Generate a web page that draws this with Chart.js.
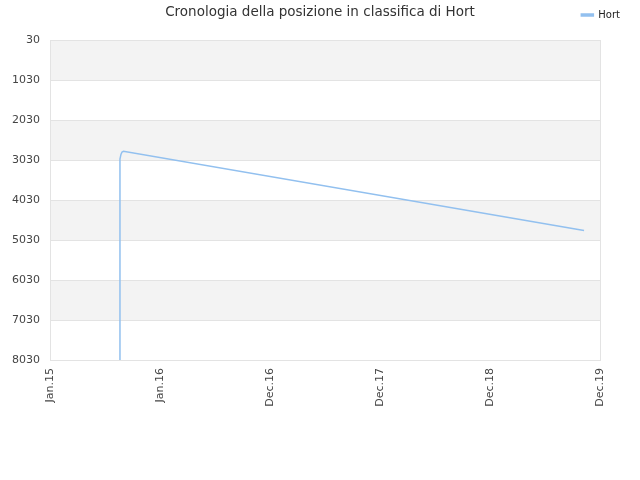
<!DOCTYPE html>
<html>
<head>
<meta charset="utf-8">
<script src="https://cdn.jsdelivr.net/npm/chart.js@4"></script>
<style>
  html, body { margin: 0; padding: 0; background: #fff; }
  #wrap { width: 640px; height: 480px; }
</style>
</head>
<body>
<div id="wrap"><canvas id="rankChart"></canvas></div>
<script>
// tick labels along the time axis (one per unit step)
const xLabels = ['Jan.15', 'Jan.16', 'Dec.16', 'Dec.17', 'Dec.18', 'Dec.19'];
// Hort ranking history, x in axis units
const hortX = [0.636, 0.636, 0.645, 0.655, 0.668, 4.855];
const hortRank = [8030, 3010, 2890, 2830, 2810, 4790];
const seriesName = 'Hort';
const chartTitle = 'Cronologia della posizione in classifica di Hort';

const rankMin = 30;
const rankMax = 8030;
const rankStep = 1000;

const gridColor = '#e3e3e3';
const lineColor = '#92c0ef';

// alternating grey bands + outer frame, plus the title drawn on the legend row
const bandsPlugin = {
    id: 'bands',
    beforeDraw(chart) {
        const { ctx, chartArea: a, scales: { y } } = chart;
        ctx.save();
        let i = 0;
        for (let v = rankMin; v < rankMax; v += rankStep) {
            if (i % 2 === 0) {
                const top = y.getPixelForValue(v);
                const bot = y.getPixelForValue(Math.min(v + rankStep, rankMax));
                ctx.fillStyle = '#f3f3f3';
                ctx.fillRect(a.left, top, a.right - a.left, bot - top);
            }
            i++;
        }
        ctx.restore();
    },
    afterDraw(chart) {
        const { ctx, chartArea: a } = chart;
        ctx.save();
        ctx.strokeStyle = gridColor;
        ctx.lineWidth = 1;
        ctx.strokeRect(a.left + 0.5, a.top + 0.5, a.right - a.left, a.bottom - a.top);
        ctx.fillStyle = '#333';
        ctx.font = '13.5px "DejaVu Sans"';
        ctx.textAlign = 'center';
        ctx.textBaseline = 'middle';
        ctx.fillText(chartTitle, chart.width / 2, 12);
        ctx.restore();
    }
};

const points = hortX.map((x, i) => ({ x: x, y: hortRank[i] }));

new Chart(document.getElementById('rankChart'), {
    type: 'line',
    data: {
        datasets: [{
            label: seriesName,
            data: points,
            borderColor: lineColor,
            backgroundColor: lineColor,
            borderWidth: 1.5,
            pointRadius: 0,
            fill: false,
            tension: 0
        }]
    },
    options: {
        responsive: true,
        maintainAspectRatio: false,
        animation: false,
        layout: { padding: { top: 0, right: 10, bottom: 0, left: 0 } },
        scales: {
            x: {
                type: 'linear',
                min: 0,
                max: xLabels.length - 1,
                afterBuildTicks(s) {
                    s.ticks = xLabels.map((_, i) => ({ value: i }));
                },
                afterFit(s) { s.height = 120; },
                grid: { display: false, drawTicks: false },
                border: { display: false },
                ticks: {
                    color: '#444',
                    font: { family: 'DejaVu Sans', size: 11 },
                    minRotation: 90,
                    maxRotation: 90,
                    padding: 8,
                    autoSkip: false,
                    callback: (v) => xLabels[v] ?? ''
                }
            },
            // empty spacer between the legend row and the plot
            xTop: {
                type: 'linear',
                position: 'top',
                display: true,
                afterFit(s) { s.height = 10; },
                grid: { display: false },
                border: { display: false },
                ticks: { display: false }
            },
            y: {
                reverse: true,
                min: rankMin,
                max: rankMax,
                afterFit(s) { s.width = 50; },
                grid: { color: gridColor, drawTicks: false },
                border: { display: false },
                ticks: {
                    stepSize: rankStep,
                    color: '#444',
                    font: { family: 'DejaVu Sans', size: 11 },
                    padding: 10,
                    callback: (v) => String(v)
                }
            },
            yRight: {
                position: 'right',
                display: true,
                afterFit(s) { s.width = 30; },
                grid: { display: false },
                border: { display: false },
                ticks: { display: false }
            }
        },
        plugins: {
            title: { display: false },
            tooltip: { enabled: false },
            legend: {
                position: 'top',
                align: 'end',
                labels: {
                    boxWidth: 12,
                    boxHeight: 2,
                    padding: 10,
                    color: '#222',
                    font: { family: 'DejaVu Sans', size: 10 }
                }
            }
        }
    },
    plugins: [bandsPlugin]
});
</script>
</body>
</html>
